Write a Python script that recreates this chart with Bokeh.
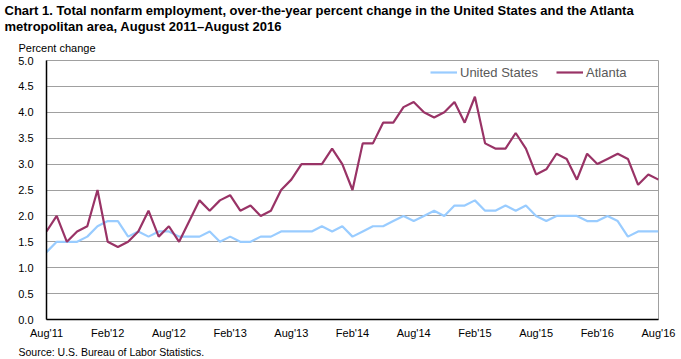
from bokeh.plotting import figure
from bokeh.models import Range1d, Title, Legend, LegendItem, FixedTicker
from bokeh.embed import file_html
from bokeh.resources import INLINE

tick_labels = ["Aug'11", "Feb'12", "Aug'12", "Feb'13", "Aug'13", "Feb'14",
               "Aug'14", "Feb'15", "Aug'15", "Feb'16", "Aug'16"]

us = [1.3, 1.5, 1.5, 1.5, 1.6, 1.8, 1.9, 1.9, 1.6, 1.7,
      1.6, 1.7, 1.7, 1.6, 1.6, 1.6, 1.7, 1.5, 1.6, 1.5,
      1.5, 1.6, 1.6, 1.7, 1.7, 1.7, 1.7, 1.8, 1.7, 1.8,
      1.6, 1.7, 1.8, 1.8, 1.9, 2.0, 1.9, 2.0, 2.1, 2.0,
      2.2, 2.2, 2.3, 2.1, 2.1, 2.2, 2.1, 2.2, 2.0, 1.9,
      2.0, 2.0, 2.0, 1.9, 1.9, 2.0, 1.9, 1.6, 1.7, 1.7,
      1.7]

atlanta = [1.7, 2.0, 1.5, 1.7, 1.8, 2.5, 1.5, 1.4, 1.5, 1.7,
           2.1, 1.6, 1.8, 1.5, 1.9, 2.3, 2.1, 2.3, 2.4, 2.1,
           2.2, 2.0, 2.1, 2.5, 2.7, 3.0, 3.0, 3.0, 3.3, 3.0,
           2.5, 3.4, 3.4, 3.8, 3.8, 4.1, 4.2, 4.0, 3.9, 4.0,
           4.2, 3.8, 4.3, 3.4, 3.3, 3.3, 3.6, 3.3, 2.8, 2.9,
           3.2, 3.1, 2.7, 3.2, 3.0, 3.1, 3.2, 3.1, 2.6, 2.8,
           2.7]

months = list(range(len(us)))

W, H = 681, 359
FONT = "Liberation Sans, Arial"

p = figure(width=W, height=H, output_backend="svg", toolbar_location=None,
           x_range=Range1d(0, 60), y_range=Range1d(0, 5),
           min_border_left=46, min_border_right=23, min_border_top=60, min_border_bottom=40)

p.outline_line_color = "#A0A0A0"
p.outline_line_width = 1
p.xgrid.visible = False
p.ygrid.grid_line_color = "#A0A0A0"
p.ygrid.grid_line_width = 1
p.ygrid.ticker = FixedTicker(ticks=[i * 0.5 for i in range(11)])

p.yaxis.ticker = FixedTicker(ticks=[i * 0.5 for i in range(11)])
p.yaxis.major_label_overrides = {i * 0.5: f"{i * 0.5:.1f}" for i in range(11)}
p.xaxis.ticker = FixedTicker(ticks=[i * 6 for i in range(11)])
p.xaxis.major_label_overrides = {i * 6: tick_labels[i] for i in range(11)}

for ax in (p.xaxis[0], p.yaxis[0]):
    ax.major_tick_line_color = None
    ax.minor_tick_line_color = None
    ax.axis_line_color = "black"
    ax.axis_line_width = 1.5
    ax.major_label_text_font = FONT
    ax.major_label_text_font_size = "11px"
    ax.major_label_text_color = "black"
p.yaxis.major_label_standoff = 7
p.xaxis.major_label_standoff = 1

r_us = p.line(months, us, line_color="#99CCFF", line_width=2.2)
r_at = p.line(months, atlanta, line_color="#993366", line_width=2.2)

legend = Legend(items=[LegendItem(label="United States", renderers=[r_us]),
                       LegendItem(label="Atlanta", renderers=[r_at])],
                orientation="horizontal", location=(384, 237),
                background_fill_alpha=0, border_line_color=None,
                padding=0, margin=0, spacing=18,
                glyph_width=27, glyph_height=20, label_standoff=3,
                label_text_font=FONT, label_text_font_size="13px",
                label_text_color="#595959")
p.add_layout(legend, "center")

title_text = ("Chart 1. Total nonfarm employment, over-the-year percent change in the United States and the Atlanta\n"
              "metropolitan area, August  2011\u2013August  2016")

# stacked from the frame outward
p.add_layout(Title(text="Percent change", align="left", offset=-28, standoff=13,
                   text_font=FONT, text_font_size="11px", text_font_style="normal",
                   text_color="black"), "above")
p.add_layout(Title(text=title_text, align="left", offset=-42, standoff=0,
                   text_font=FONT, text_font_size="13px", text_font_style="bold",
                   text_line_height=1.05, text_color="black"), "above")
p.add_layout(Title(text="Source: U.S. Bureau of Labor Statistics.", align="left", offset=-28,
                   standoff=4, text_font=FONT, text_font_size="10.5px",
                   text_font_style="normal", text_color="black"), "below")

open("out.html", "w").write(file_html(p, INLINE))
